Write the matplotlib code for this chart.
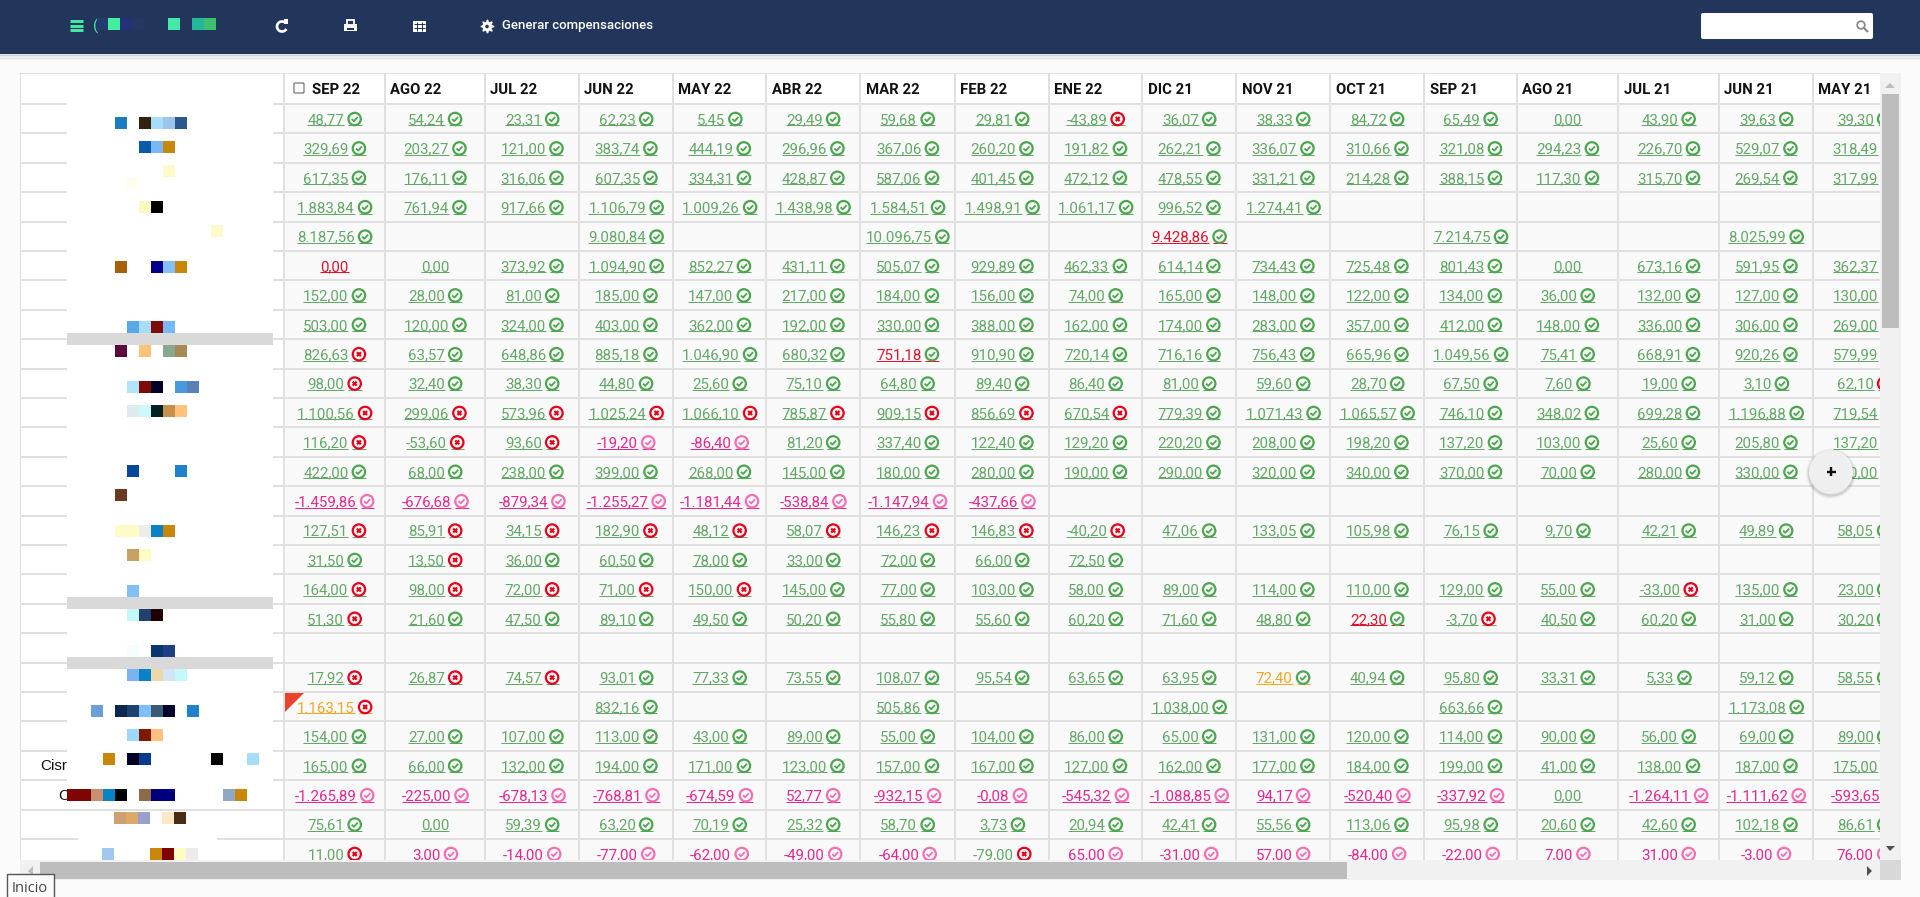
import matplotlib
matplotlib.use("Agg")
import matplotlib.pyplot as plt
from matplotlib.patches import Rectangle, Circle, Polygon, FancyBboxPatch, Arc

months = ["SEP 22", "AGO 22", "JUL 22", "JUN 22", "MAY 22", "ABR 22", "MAR 22", "FEB 22", "ENE 22",
          "DIC 21", "NOV 21", "OCT 21", "SEP 21", "AGO 21", "JUL 21", "JUN 21", "MAY 21"]

row01 = ["48,77", "54,24", "23,31", "62,23", "5,45", "29,49", "59,68", "29,81", "-43,89", "36,07", "38,33", "84,72", "65,49", "0,00", "43,90", "39,63", "39,30"]
row02 = ["329,69", "203,27", "121,00", "383,74", "444,19", "296,96", "367,06", "260,20", "191,82", "262,21", "336,07", "310,66", "321,08", "294,23", "226,70", "529,07", "318,49"]
row03 = ["617,35", "176,11", "316,06", "607,35", "334,31", "428,87", "587,06", "401,45", "472,12", "478,55", "331,21", "214,28", "388,15", "117,30", "315,70", "269,54", "317,99"]
row04 = ["1.883,84", "761,94", "917,66", "1.106,79", "1.009,26", "1.438,98", "1.584,51", "1.498,91", "1.061,17", "996,52", "1.274,41", "", "", "", "", "", ""]
row05 = ["8.187,56", "", "", "9.080,84", "", "", "10.096,75", "", "", "9.428,86", "", "", "7.214,75", "", "", "8.025,99", ""]
row06 = ["0,00", "0,00", "373,92", "1.094,90", "852,27", "431,11", "505,07", "929,89", "462,33", "614,14", "734,43", "725,48", "801,43", "0,00", "673,16", "591,95", "362,37"]
row07 = ["152,00", "28,00", "81,00", "185,00", "147,00", "217,00", "184,00", "156,00", "74,00", "165,00", "148,00", "122,00", "134,00", "36,00", "132,00", "127,00", "130,00"]
row08 = ["503,00", "120,00", "324,00", "403,00", "362,00", "192,00", "330,00", "388,00", "162,00", "174,00", "283,00", "357,00", "412,00", "148,00", "336,00", "306,00", "269,00"]
row09 = ["826,63", "63,57", "648,86", "885,18", "1.046,90", "680,32", "751,18", "910,90", "720,14", "716,16", "756,43", "665,96", "1.049,56", "75,41", "668,91", "920,26", "579,99"]
row10 = ["98,00", "32,40", "38,30", "44,80", "25,60", "75,10", "64,80", "89,40", "86,40", "81,00", "59,60", "28,70", "67,50", "7,60", "19,00", "3,10", "62,10"]
row11 = ["1.100,56", "299,06", "573,96", "1.025,24", "1.066,10", "785,87", "909,15", "856,69", "670,54", "779,39", "1.071,43", "1.065,57", "746,10", "348,02", "699,28", "1.196,88", "719,54"]
row12 = ["116,20", "-53,60", "93,60", "-19,20", "-86,40", "81,20", "337,40", "122,40", "129,20", "220,20", "208,00", "198,20", "137,20", "103,00", "25,60", "205,80", "137,20"]
row13 = ["422,00", "68,00", "238,00", "399,00", "268,00", "145,00", "180,00", "280,00", "190,00", "290,00", "320,00", "340,00", "370,00", "70,00", "280,00", "330,00", "360,00"]
row14 = ["-1.459,86", "-676,68", "-879,34", "-1.255,27", "-1.181,44", "-538,84", "-1.147,94", "-437,66", "", "", "", "", "", "", "", "", ""]
row15 = ["127,51", "85,91", "34,15", "182,90", "48,12", "58,07", "146,23", "146,83", "-40,20", "47,06", "133,05", "105,98", "76,15", "9,70", "42,21", "49,89", "58,05"]
row16 = ["31,50", "13,50", "36,00", "60,50", "78,00", "33,00", "72,00", "66,00", "72,50", "", "", "", "", "", "", "", ""]
row17 = ["164,00", "98,00", "72,00", "71,00", "150,00", "145,00", "77,00", "103,00", "58,00", "89,00", "114,00", "110,00", "129,00", "55,00", "-33,00", "135,00", "23,00"]
row18 = ["51,30", "21,60", "47,50", "89,10", "49,50", "50,20", "55,80", "55,60", "60,20", "71,60", "48,80", "22,30", "-3,70", "40,50", "60,20", "31,00", "30,20"]
row19 = [""] * 17
row20 = ["17,92", "26,87", "74,57", "93,01", "77,33", "73,55", "108,07", "95,54", "63,65", "63,95", "72,40", "40,94", "95,80", "33,31", "5,33", "59,12", "58,55"]
row21 = ["1.163,15", "", "", "832,16", "", "", "505,86", "", "", "1.038,00", "", "", "663,66", "", "", "1.173,08", ""]
row22 = ["154,00", "27,00", "107,00", "113,00", "43,00", "89,00", "55,00", "104,00", "86,00", "65,00", "131,00", "120,00", "114,00", "90,00", "56,00", "69,00", "89,00"]
row23 = ["165,00", "66,00", "132,00", "194,00", "171,00", "123,00", "157,00", "167,00", "127,00", "162,00", "177,00", "184,00", "199,00", "41,00", "138,00", "187,00", "175,00"]
row24 = ["-1.265,89", "-225,00", "-678,13", "-768,81", "-674,59", "52,77", "-932,15", "-0,08", "-545,32", "-1.088,85", "94,17", "-520,40", "-337,92", "0,00", "-1.264,11", "-1.111,62", "-593,65"]
row25 = ["75,61", "0,00", "59,39", "63,20", "70,19", "25,32", "58,70", "3,73", "20,94", "42,41", "55,56", "113,06", "95,98", "20,60", "42,60", "102,18", "86,61"]
row26 = ["11,00", "3,00", "-14,00", "-77,00", "-62,00", "-49,00", "-64,00", "-79,00", "65,00", "-31,00", "57,00", "-84,00", "-22,00", "7,00", "31,00", "-3,00", "76,00"]

rows = [row01, row02, row03, row04, row05, row06, row07, row08, row09, row10, row11, row12, row13,
        row14, row15, row16, row17, row18, row19, row20, row21, row22, row23, row24, row25, row26]

# g ok, x green text + red cross, p pink, n no icon, N red no icon,
# r red text + ok, o orange + ok, O orange + cross
status = [
    "ggggggggxggggnggg",
    "ggggggggggggggggg",
    "ggggggggggggggggg",
    "ggggggggggg......",
    "g..g..g..r..g..g.",
    "Nn" + "g" * 11 + "n" + "ggg",
    "ggggggggggggggggg",
    "ggggggggggggggggg",
    "xggggg" + "r" + "g" * 10,
    "x" + "g" * 15 + "x",
    "x" * 9 + "g" * 8,
    "xxxpp" + "g" * 12,
    "ggggggggggggggggg",
    "p" * 8 + "." * 9,
    "x" * 9 + "g" * 8,
    "gx" + "g" * 7 + "." * 8,
    "x" * 5 + "g" * 9 + "xgg",
    "x" + "g" * 10 + "rx" + "g" * 4,
    "." * 17,
    "xxx" + "g" * 7 + "o" + "g" * 6,
    "O..g..g..g..g..g.",
    "ggggggggggggggggg",
    "ggggggggggggggggg",
    "p" * 13 + "nppp",
    "gn" + "g" * 15,
    "x" + "p" * 6 + "x" + "p" * 9,
]

col_edges = [284, 385, 485, 579, 673, 766, 860, 955, 1049, 1142, 1236, 1330, 1424, 1517, 1618, 1719, 1813, 1915]

# pixelated blobs over the name column: (x, y, colour)
mosaic = [
    (115, 117, "#1f7bbf"), (139, 117, "#33210f"), (151, 117, "#a8dcfb"), (163, 117, "#a0c5ea"), (175, 117, "#2a5a8c"),
    (139, 141, "#0a5aa8"), (151, 141, "#7ab8f5"), (163, 141, "#c8860a"),
    (163, 165, "#fffacc"), (127, 177, "#fffdf0"),
    (139, 201, "#fff8c4"), (151, 201, "#000000"), (211, 225, "#fffacc"),
    (115, 261, "#a85f0a"), (151, 261, "#00008b"), (163, 261, "#85bff5"), (175, 261, "#c8860a"),
    (127, 321, "#5aa8e6"), (139, 321, "#a8dcfb"), (151, 321, "#7f0a0a"), (163, 321, "#78b8f8"),
    (115, 345, "#5a0a3c"), (139, 345, "#ffc27a"), (163, 345, "#8aa88f"), (175, 345, "#a68a55"),
    (127, 381, "#b0e4fb"), (139, 381, "#7f0a0a"), (151, 381, "#000028"), (175, 381, "#4a98e0"), (187, 381, "#5a80b8"),
    (127, 405, "#dcecec"), (139, 405, "#ccf8fb"), (151, 405, "#04201e"), (163, 405, "#c88f4a"), (175, 405, "#ffc27a"),
    (127, 465, "#0a469c"), (175, 465, "#1f80cc"), (115, 489, "#693a20"),
    (115, 525, "#fffbc8"), (127, 525, "#fffbc8"), (139, 525, "#ececec"), (151, 525, "#0a82c8"), (163, 525, "#c8860a"),
    (127, 549, "#c8a264"), (139, 549, "#fffbc4"), (127, 585, "#80c0f5"),
    (127, 609, "#c4f8fb"), (139, 609, "#21406e"), (151, 609, "#200000"),
    (127, 645, "#f6fdff"), (151, 645, "#0a3670"), (163, 645, "#1f3e85"),
    (127, 669, "#78b4ee"), (139, 669, "#0a82c8"), (151, 669, "#ecd8aa"), (163, 669, "#d2e4f5"), (175, 669, "#c4f8fb"),
    (91, 705, "#6a9fd8"), (115, 705, "#0a2850"), (127, 705, "#1f4270"), (139, 705, "#80c0f8"), (151, 705, "#3a5a78"), (163, 705, "#000028"), (187, 705, "#1f80cc"),
    (127, 729, "#a0d8fb"), (139, 729, "#7f1a00"), (151, 729, "#ffc080"),
    (103, 753, "#c8860a"), (127, 753, "#000028"), (139, 753, "#0a3a8c"), (211, 753, "#000000"), (247, 753, "#a8dcfb"),
    (67, 789, "#7f0505"), (79, 789, "#7f0505"), (91, 789, "#c89070"), (103, 789, "#0a82c8"), (115, 789, "#000000"),
    (139, 789, "#8f6a4a"), (151, 789, "#00007f"), (163, 789, "#00007f"), (223, 789, "#90a8c4"), (235, 789, "#c8860a"),
    (114, 812, "#cfa070"), (126, 812, "#dba968"), (138, 812, "#9aa0cc"), (162, 812, "#fde8c4"), (174, 812, "#4a2c14"),
    (102, 848, "#a0c8f0"), (150, 848, "#c8860a"), (162, 848, "#7f0000"), (174, 848, "#fffbc4"), (186, 848, "#ececec"),
]

GREEN = "#64a868"
PINK = "#e6278f"
RED = "#e2122e"
ORANGE = "#f5a623"
ICON_GREEN = "#4ca64f"
ICON_RED = "#e6001a"
ICON_PINK = "#f36fb4"
LINE = "#e0e0e0"
NAVY = "#21365a"
MINT = "#43e6a3"

plt.rcParams["font.family"] = ["Roboto", "DejaVu Sans"]

fig = plt.figure(figsize=(19.2, 8.97), dpi=100, facecolor="#fbfbfb")
ax = fig.add_axes([0, 0, 1, 1])
ax.set_xlim(0, 1920)
ax.set_ylim(897, 0)
ax.axis("off")
renderer = fig.canvas.get_renderer()

clip = Rectangle((20, 73), 1860, 787, transform=ax.transData)


def box(x0, y0, x1, y1, color, z=1, **kw):
    r = Rectangle((x0, y0), x1 - x0, y1 - y0, facecolor=color, edgecolor="none", zorder=z, **kw)
    ax.add_patch(r)
    return r


def seg(xs, ys, color, lw, z=3, clipped=True):
    line, = ax.plot(xs, ys, color=color, lw=lw * 0.72, zorder=z, solid_capstyle="butt")
    if clipped:
        line.set_clip_path(clip)
    return line


def icon(cx, cy, kind):
    color = {"ok": ICON_GREEN, "cross": ICON_RED, "pink": ICON_PINK}[kind]
    ring = Circle((cx, cy), 6.2, facecolor="none", edgecolor=color, lw=1.6, zorder=4)
    ax.add_patch(ring)
    ring.set_clip_path(clip)
    if kind == "cross":
        seg([cx - 2, cx + 2], [cy - 2, cy + 2], color, 2.2, z=4)
        seg([cx - 2, cx + 2], [cy + 2, cy - 2], color, 2.2, z=4)
    else:
        seg([cx - 3, cx - 0.8, cx + 3], [cy, cy + 2.2, cy - 2], color, 1.8, z=4)


text_colors = {"g": GREEN, "x": GREEN, "p": PINK, "n": GREEN, "N": RED, "r": RED, "o": ORANGE, "O": ORANGE}
icon_kinds = {"g": "ok", "x": "cross", "p": "pink", "r": "ok", "o": "ok", "O": "cross"}

# nav bar with soft shadow below
for i, a in enumerate([0.10, 0.07, 0.05, 0.03, 0.015]):
    box(0, 54 + i * 1.5, 1920, 56 + i * 1.5, "#000000", z=1, alpha=a)
box(0, 0, 1920, 54, NAVY, z=2)
for y in [21, 26, 30.5]:
    seg([70, 83], [y, y], MINT, 3, z=3, clipped=False)
ax.text(93, 26, "(", color=MINT, fontsize=11, va="center", zorder=3)
for x, c in [(97, "#243a6e"), (108, "#43f0a0"), (120, "#24307a"), (132, "#26365e"),
             (168, "#46e8a8"), (192, "#22b89a"), (204, "#3fc070")]:
    box(x, 18, x + 12, 30, c, z=3)

# refresh
ax.add_patch(Arc((282, 26.5), 10, 10, theta1=30, theta2=320, color="white", lw=1.9, zorder=3))
ax.add_patch(Polygon([[284, 19], [288, 19], [288, 24], [284, 24]], facecolor="white", zorder=3))
# print
box(344, 24, 357, 31, "white", z=3)
ax.add_patch(Rectangle((347, 20.5), 7, 5, facecolor=NAVY, edgecolor="white", lw=1.3, zorder=3))
box(347, 28, 354, 30, NAVY, z=3)
# table
box(413, 21, 426, 32, "white", z=3)
for x in [417, 421.5]:
    seg([x, x], [22, 31], NAVY, 1, z=4, clipped=False)
for y in [24.5, 28]:
    seg([414, 425], [y, y], NAVY, 1, z=4, clipped=False)
# cog
ax.plot([487], [26.5], marker=(8, 1, 0), ms=9.5, color="white", zorder=3)
ax.add_patch(Circle((487, 26.5), 4.6, facecolor="white", edgecolor="none", zorder=3))
ax.add_patch(Circle((487, 26.5), 1.8, facecolor=NAVY, edgecolor="none", zorder=4))
ax.text(502, 26, "Generar compensaciones", color="white", fontsize=9.5, fontweight="medium", va="center", zorder=3)

# search box
ax.add_patch(FancyBboxPatch((1703, 15), 168, 22, boxstyle="round,pad=2", facecolor="white", edgecolor="none", zorder=3))
ax.add_patch(Circle((1861, 25), 3.8, facecolor="none", edgecolor="#8a8a8a", lw=1.3, zorder=4))
seg([1864, 1868], [28, 32], "#8a8a8a", 2.2, z=4, clipped=False)

# table background
box(20, 73, 1880, 860, "#f9f9f9", z=1)
box(20, 73, 284, 860, "white", z=1)
box(20, 73, 1880, 103, "white", z=1)

row_h = 29.4
row_top = [104 + i * row_h for i in range(len(rows) + 1)]

for x in col_edges[:-1]:
    seg([x, x], [73, 860], LINE, 2)
seg([20, 20], [73, 860], LINE, 2)
seg([20, 1880], [73, 73], LINE, 2)
for y in row_top[:-1]:
    seg([20, 1880], [y, y], LINE, 2)

# name column: white cover over the rules, then the mosaic
for i, y in enumerate(row_top[:-1]):
    if i == 24:
        continue
    x0, x1 = (78, 217) if i == 25 else (67, 273)
    box(x0, y - 2, x1, y + 2, "white", z=3.2)
for x, y, c in mosaic:
    box(x, y, x + 12, y + 12, c, z=3.5)
for y in [333, 597, 657]:
    box(67, y, 273, y + 12, "#d9d9d9", z=3.6)
ax.text(40, 766, "Cisr", family="Liberation Sans", fontsize=11, va="center", color="#111111", zorder=3.3)
ax.text(58, 796, "C", family="Liberation Sans", fontsize=11, va="center", color="#111111", zorder=3.3)

# header
for j, name in enumerate(months):
    x = col_edges[j] + (28 if j == 0 else 5.5)
    t = ax.text(x, 94.5, name, fontsize=10.7, fontweight="bold", color="#111111", zorder=4)
    t.set_clip_path(clip)
ax.add_patch(FancyBboxPatch((295, 84), 8, 8, boxstyle="round,pad=1", facecolor="white", edgecolor="#767676", lw=0.9, zorder=4))

# cells
for i, (vals, codes) in enumerate(zip(rows, status)):
    top = row_top[i]
    for j, (val, code) in enumerate(zip(vals, codes)):
        if not val:
            continue
        color = text_colors[code]
        center = (col_edges[j] + col_edges[j + 1]) / 2
        t = ax.text(0, top + 20, val, fontsize=10.8, color=color, zorder=4)
        w = t.get_window_extent(renderer).width
        has_icon = code in icon_kinds
        total = w + (17.5 if has_icon else 0)
        x0 = center - total / 2
        t.set_x(x0)
        t.set_clip_path(clip)
        seg([x0, x0 + w], [top + 21.5, top + 21.5], color, 1)
        if has_icon:
            icon(x0 + w + 10.5, top + 15, icon_kinds[code])
            seg([x0 + w + 4, x0 + w + 17.5], [top + 21.5, top + 21.5], color, 1)

# red corner flag
ax.add_patch(Polygon([[285, 693], [304, 693], [285, 712]], facecolor="#e8432e", edgecolor="none", zorder=5))

# floating button
for r, a in [(25, 0.04), (24, 0.05), (23, 0.08)]:
    ax.add_patch(Circle((1831, 473.5), r, facecolor="#000000", alpha=a, edgecolor="none", zorder=6))
ax.add_patch(Circle((1831, 472), 22, facecolor="#efefef", edgecolor="none", zorder=6))
seg([1826.5, 1835.5], [472, 472], "#111111", 2.4, z=7, clipped=False)
seg([1831, 1831], [467.5, 476.5], "#111111", 2.4, z=7, clipped=False)

# scrollbars
box(1880, 73, 1901, 860, "#f1f1f1", z=5)
box(1882, 94, 1899, 328, "#bdbdbd", z=6)
box(20, 860, 1880, 880, "#f1f1f1", z=5)
box(40, 862, 1347, 879, "#bdbdbd", z=6)
box(1880, 860, 1901, 880, "#d8d8d8", z=6)
ax.add_patch(Polygon([[1885, 88], [1895, 88], [1890, 83]], facecolor="#bdbdbd", zorder=6))
ax.add_patch(Polygon([[1886, 846], [1895, 846], [1890, 851]], facecolor="#505050", zorder=6))
ax.add_patch(Polygon([[33, 866], [33, 876], [28, 871]], facecolor="#bdbdbd", zorder=6))
ax.add_patch(Polygon([[1867, 866], [1867, 876], [1872, 871]], facecolor="#505050", zorder=6))

# status tooltip
ax.add_patch(Rectangle((7, 874), 47, 24, facecolor="#fbfbfb", edgecolor="#555555", lw=1, zorder=8))
ax.text(12, 888, "Inicio", family="Open Sans", fontsize=10.5, color="#444444", va="center", zorder=9)

fig.savefig("out.png", dpi=100, facecolor=fig.get_facecolor())
